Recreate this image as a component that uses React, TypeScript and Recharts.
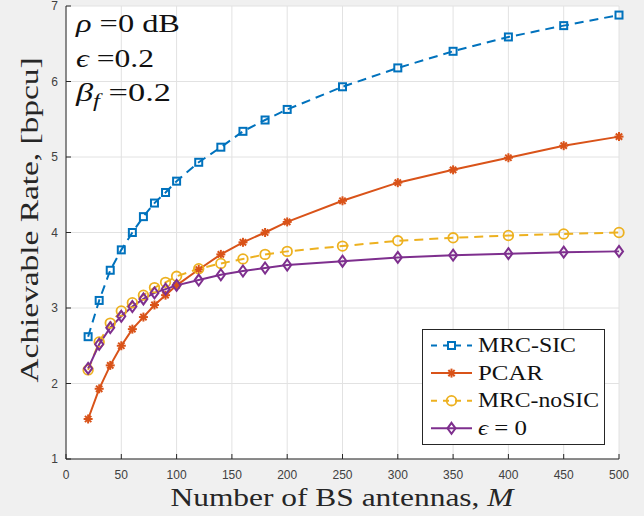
import { CartesianGrid, Line, LineChart, XAxis, YAxis } from "recharts";

document.body.style.margin = "0";

// number of BS antennas
const M = [20, 30, 40, 50, 60, 70, 80, 90, 100, 120, 140, 160, 180, 200, 250, 300, 350, 400, 450, 500];
const mrcSic = [2.62, 3.1, 3.5, 3.77, 4.0, 4.21, 4.39, 4.53, 4.68, 4.93, 5.13, 5.34, 5.49, 5.63, 5.93, 6.18, 6.4, 6.59, 6.74, 6.88];
const pcar = [1.53, 1.93, 2.24, 2.5, 2.72, 2.88, 3.04, 3.17, 3.3, 3.51, 3.71, 3.87, 4.0, 4.14, 4.42, 4.66, 4.83, 4.99, 5.15, 5.27];
const mrcNoSic = [2.18, 2.55, 2.8, 2.96, 3.07, 3.17, 3.27, 3.34, 3.42, 3.52, 3.59, 3.65, 3.71, 3.75, 3.82, 3.89, 3.93, 3.96, 3.98, 4.0];
const epsZero = [2.2, 2.52, 2.74, 2.89, 3.02, 3.12, 3.2, 3.25, 3.3, 3.37, 3.44, 3.49, 3.53, 3.57, 3.62, 3.67, 3.7, 3.72, 3.74, 3.75];

const xTicks = [0, 50, 100, 150, 200, 250, 300, 350, 400, 450, 500];
const yTicks = [1, 2, 3, 4, 5, 6, 7];

const data = M.map((m, i) => ({ m, a: mrcSic[i], b: pcar[i], c: mrcNoSic[i], d: epsZero[i] }));

type Kind = "square" | "star" | "circle" | "diamond";
const SERIES: { key: string; name: string; color: string; dashed: boolean; marker: Kind; w: number }[] = [
  { key: "a", name: "MRC-SIC", color: "#0072BD", dashed: true, marker: "square", w: 98 },
  { key: "b", name: "PCAR", color: "#D95319", dashed: false, marker: "star", w: 65 },
  { key: "c", name: "MRC-noSIC", color: "#EDB120", dashed: true, marker: "circle", w: 121 },
  { key: "d", name: "ϵ = 0", color: "#7E2F8E", dashed: false, marker: "diamond", w: 49 },
];

const AXIS = "#262626";
const TICK = "#404040";
const SERIF = "Liberation Serif, DejaVu Serif, serif";
const SANS = "Liberation Sans, Arial, sans-serif";

function Marker({ kind, cx, cy, color }: { kind: Kind; cx: number; cy: number; color: string }) {
  if (kind === "square")
    return <rect x={cx - 3.5} y={cy - 3.5} width={7} height={7} fill="none" stroke={color} strokeWidth={2} />;
  if (kind === "circle") return <circle cx={cx} cy={cy} r={4.8} fill="none" stroke={color} strokeWidth={1.8} />;
  if (kind === "diamond")
    return (
      <polygon
        points={`${cx},${cy - 5.5} ${cx + 4},${cy} ${cx},${cy + 5.5} ${cx - 4},${cy}`}
        fill="none"
        stroke={color}
        strokeWidth={2}
      />
    );
  const r = 4.5;
  const q = r * 0.7;
  return (
    <g stroke={color} strokeWidth={2}>
      <line x1={cx - r} y1={cy} x2={cx + r} y2={cy} />
      <line x1={cx} y1={cy - r} x2={cx} y2={cy + r} />
      <line x1={cx - q} y1={cy - q} x2={cx + q} y2={cy + q} />
      <line x1={cx - q} y1={cy + q} x2={cx + q} y2={cy - q} />
    </g>
  );
}

const BottomTick = ({ x, y, payload }: any) => (
  <g>
    <line x1={x} y1={y} x2={x} y2={y - 5} stroke={AXIS} />
    <text x={x} y={y + 20} textAnchor="middle" fontSize={12} fill={TICK} style={{ fontFamily: SANS }}>
      {payload.value}
    </text>
  </g>
);
const TopTick = ({ x, y }: any) => <line x1={x} y1={y} x2={x} y2={y + 5} stroke={AXIS} />;
const LeftTick = ({ x, y, payload }: any) => (
  <g>
    <line x1={x} y1={y} x2={x + 5} y2={y} stroke={AXIS} />
    <text x={x - 8} y={y + 4} textAnchor="end" fontSize={12} fill={TICK} style={{ fontFamily: SANS }}>
      {payload.value}
    </text>
  </g>
);
const RightTick = ({ x, y }: any) => <line x1={x} y1={y} x2={x - 5} y2={y} stroke={AXIS} />;

function Overlay() {
  return (
    <svg
      width={644}
      height={516}
      style={{ position: "absolute", left: 0, top: 0, pointerEvents: "none", fontFamily: SERIF }}
    >
      <g fill="#111" fontSize={25}>
        <text x={76} y={32} textLength={104} lengthAdjust="spacingAndGlyphs">
          <tspan fontStyle="italic">ρ</tspan> =0 dB
        </text>
        <text x={76} y={67} textLength={78} lengthAdjust="spacingAndGlyphs">
          <tspan fontStyle="italic">ϵ</tspan> =0.2
        </text>
        <text x={76} y={101} textLength={95} lengthAdjust="spacingAndGlyphs">
          <tspan fontStyle="italic">β</tspan>
          <tspan fontStyle="italic" fontSize={18} dy={6}>f</tspan>
          <tspan dy={-6}> =0.2</tspan>
        </text>
      </g>
      <text x={342} y={506} textAnchor="middle" fontSize={25} fill={AXIS} textLength={343} lengthAdjust="spacingAndGlyphs">
        Number of BS antennas, <tspan fontStyle="italic">M</tspan>
      </text>
      <text
        transform="translate(38,220) rotate(-90)"
        textAnchor="middle"
        fontSize={25}
        fill={AXIS}
        textLength={325}
        lengthAdjust="spacingAndGlyphs"
      >
        Achievable Rate, [bpcu]
      </text>
      <rect x={422.5} y={329.5} width={182} height={115} fill="#fff" stroke={AXIS} />
      {SERIES.map((s, i) => {
        const cy = 345.5 + i * 27.6;
        return (
          <g key={s.key}>
            <line x1={431} x2={472} y1={cy} y2={cy} stroke={s.color} strokeWidth={2} strokeDasharray={s.dashed ? "6 6" : undefined} />
            <Marker kind={s.marker} cx={451.5} cy={cy} color={s.color} />
            <text x={478} y={cy + 6.5} fontSize={20} fill="#111" textLength={s.w} lengthAdjust="spacingAndGlyphs">
              {s.key === "d" ? (
                <>
                  <tspan fontStyle="italic">ϵ</tspan> = 0
                </>
              ) : (
                s.name
              )}
            </text>
          </g>
        );
      })}
    </svg>
  );
}

export default function App() {
  return (
    <div style={{ position: "relative", width: 644, height: 516, background: "#f0f0f0" }}>
      <LineChart width={644} height={516} data={data} margin={{ top: 6, right: 25, bottom: 0, left: 0 }}>
        <CartesianGrid stroke="#e2e2e2" fill="#fff" />
        <XAxis
          dataKey="m"
          type="number"
          domain={[0, 500]}
          ticks={xTicks}
          interval={0}
          height={57}
          tickSize={0}
          tickMargin={0}
          tickLine={false}
          tick={BottomTick}
          stroke={AXIS}
        />
        <XAxis
          xAxisId="top"
          orientation="top"
          dataKey="m"
          type="number"
          domain={[0, 500]}
          ticks={xTicks}
          interval={0}
          height={0}
          tickSize={0}
          tickMargin={0}
          tickLine={false}
          tick={TopTick}
          stroke={AXIS}
        />
        <YAxis
          type="number"
          domain={[1, 7]}
          ticks={yTicks}
          interval={0}
          width={66}
          tickSize={0}
          tickMargin={0}
          tickLine={false}
          tick={LeftTick}
          stroke={AXIS}
        />
        <YAxis
          yAxisId="right"
          orientation="right"
          type="number"
          domain={[1, 7]}
          ticks={yTicks}
          interval={0}
          width={0}
          tickSize={0}
          tickMargin={0}
          tickLine={false}
          tick={RightTick}
          stroke={AXIS}
        />
        {SERIES.map((s) => (
          <Line
            key={s.key}
            dataKey={s.key}
            name={s.name}
            stroke={s.color}
            strokeWidth={2}
            strokeDasharray={s.dashed ? "9 6" : undefined}
            isAnimationActive={false}
            dot={(p: any) => <Marker key={`${s.key}-${p.index}`} kind={s.marker} cx={p.cx} cy={p.cy} color={s.color} />}
            activeDot={false}
          />
        ))}
      </LineChart>
      <Overlay />
    </div>
  );
}
